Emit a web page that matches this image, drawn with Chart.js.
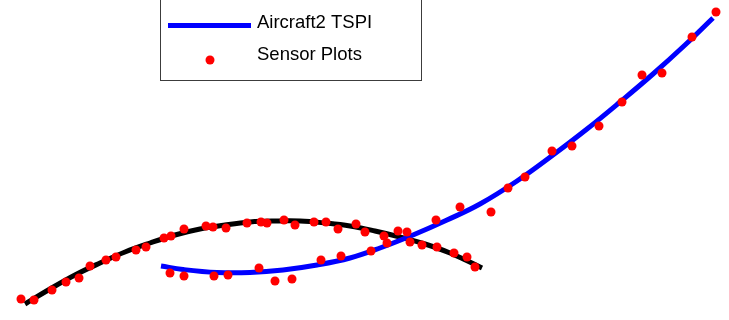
<!DOCTYPE html>
<html>
<head>
<meta charset="utf-8">
<script src="https://cdn.jsdelivr.net/npm/chart.js@4/dist/chart.umd.min.js"></script>
<style>
  html, body { margin: 0; padding: 0; background: #fff; }
  #wrap { width: 729px; height: 320px; }
</style>
</head>
<body>
<div id="wrap"><canvas id="trackChart" width="729" height="320"></canvas></div>
<script>
// track data, in plot units (x to the right, y downward)
const aircraft1X = [25, 50, 75, 100, 125, 150, 175, 200, 225, 250, 275, 300, 325, 350, 375, 400, 425, 450, 482];
const aircraft1Y = [304, 289, 275, 263, 252, 243, 235, 229, 225, 222, 221, 221, 223, 226, 231, 237, 244, 253, 268];

const aircraft2X = [161, 183, 217, 250, 283, 317, 350, 380, 413, 447, 480, 517, 553, 587, 620, 653, 685, 713];
const aircraft2Y = [266, 269.5, 272.5, 272.5, 270, 265, 258, 248, 235, 220, 204, 181, 155, 129, 102, 74, 45, 18];

const sensorX = [21, 34, 52, 66, 79, 90, 106, 116, 136, 146, 164, 171, 184, 206, 213, 226, 247, 261, 267, 284, 295, 314, 326, 338, 356, 365, 384, 387, 410, 422, 437, 454, 467, 475,
                 170, 184, 214, 228, 259, 275, 292, 321, 341, 371, 398, 407, 436, 460, 491, 508, 525, 552, 572, 599, 622, 642, 662, 692, 716];
const sensorY = [299, 300, 290, 282, 278, 266, 260, 257, 250, 247, 238, 236, 229, 226, 227, 228, 223, 222, 223, 220, 225, 222, 222, 229, 224, 232, 236, 243, 242, 245, 247, 253, 257, 267,
                 273, 276, 276, 275, 268, 281, 279, 260, 256, 251, 231, 232, 220, 207, 212, 188, 177, 151, 146, 126, 102, 75, 73, 37, 12];

const legendLabels = ['Aircraft2 TSPI', 'Sensor Plots'];

const toPts = (xs, ys) => xs.map((x, i) => ({ x, y: ys[i] }));

// legend box drawn by hand (top of the box runs off the canvas)
Chart.register({
    id: 'boxLegend',
    afterDraw(chart) {
        const { ctx } = chart;
        ctx.save();
        ctx.fillStyle = '#fff';
        ctx.fillRect(160, -20, 262, 100);
        ctx.strokeStyle = '#3c3c3c';
        ctx.lineWidth = 1;
        ctx.strokeRect(160.5, -20, 261, 100.5);

        // blue line entry
        ctx.strokeStyle = '#0000ff';
        ctx.lineWidth = 5;
        ctx.beginPath();
        ctx.moveTo(168, 25.5);
        ctx.lineTo(251, 25.5);
        ctx.stroke();

        // red dot entry
        ctx.fillStyle = '#ff0000';
        ctx.beginPath();
        ctx.arc(210, 60, 4.5, 0, Math.PI * 2);
        ctx.fill();

        ctx.fillStyle = '#000';
        ctx.font = '18.5px "Liberation Sans", Arial, sans-serif';
        ctx.textBaseline = 'middle';
        ctx.fillText(legendLabels[0], 257, 23);
        ctx.fillText(legendLabels[1], 257, 55);
        ctx.restore();
    }
});

new Chart(document.getElementById('trackChart'), {
    type: 'scatter',
    data: {
        datasets: [
            {
                label: 'Aircraft1 TSPI',
                data: toPts(aircraft1X, aircraft1Y),
                showLine: true,
                borderColor: '#000',
                borderWidth: 5,
                pointRadius: 0,
                tension: 0.4,
                order: 3
            },
            {
                label: legendLabels[0],
                data: toPts(aircraft2X, aircraft2Y),
                showLine: true,
                borderColor: '#0000ff',
                borderWidth: 5,
                pointRadius: 0,
                tension: 0.4,
                order: 2
            },
            {
                label: legendLabels[1],
                data: toPts(sensorX, sensorY),
                showLine: false,
                pointRadius: 4.5,
                pointBorderWidth: 0,
                pointBackgroundColor: '#ff0000',
                pointBorderColor: '#ff0000',
                order: 1
            }
        ]
    },
    options: {
        responsive: false,
        animation: false,
        layout: { padding: 0, autoPadding: false },
        plugins: { legend: { display: false }, tooltip: { enabled: false } },
        scales: {
            x: { type: 'linear', min: 0, max: 729, display: false },
            y: { type: 'linear', min: 0, max: 320, reverse: true, display: false }
        }
    }
});
</script>
</body>
</html>
